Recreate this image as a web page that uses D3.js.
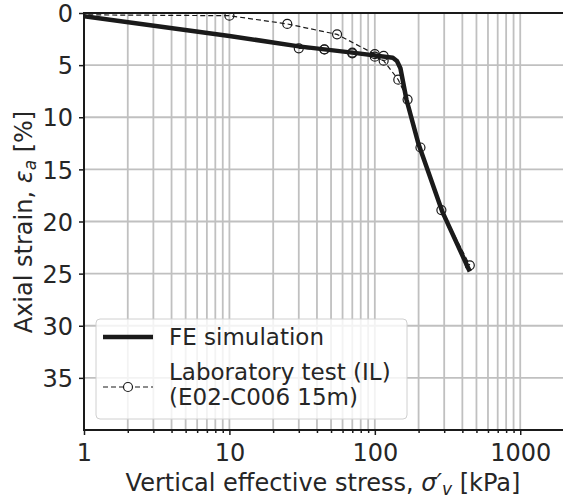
<!DOCTYPE html>
<html>
<head>
<meta charset="utf-8">
<script src="https://cdn.jsdelivr.net/npm/d3@7"></script>
<style>
    body { margin: 0; background: #fff; }
    text { font-family: "DejaVu Sans", sans-serif; fill: #262626; }
</style>
</head>
<body>
<div id="chart"></div>
<script>
// FE simulation (stress in kPa, strain in %)
var feStress = [1, 10, 30, 70, 133, 142, 150, 165, 200, 290, 450];
var feStrain = [0.3, 2.2, 3.2, 3.8, 4.3, 4.6, 5.3, 8.3, 12.6, 19.0, 24.8];

// laboratory test (IL), E02-C006 15m
var labStress = [0.5, 10, 25, 55, 100, 115, 70, 45, 30, 45, 70, 100, 115, 145, 168, 206, 287, 450];
var labStrain = [0.15, 0.26, 1.05, 2.05, 3.95, 4.12, 3.87, 3.5, 3.39, 3.48, 3.8, 4.19, 4.57, 6.4, 8.3, 12.9, 18.9, 24.2];

var stressTicks = [1, 10, 100, 1000];
var strainTicks = [0, 5, 10, 15, 20, 25, 30, 35];

var width = 563, height = 500;
var margin = {top: 13, left: 84, right: 564, bottom: 430};

var svg = d3.select("#chart").append("svg")
    .attr("width", width)
    .attr("height", height);

var x = d3.scaleLog().domain([1, 2000]).range([margin.left, margin.right]);
var y = d3.scaleLinear().domain([0, 40]).range([margin.top, margin.bottom]);

var minorTicks = x.ticks().filter(function(d) { return stressTicks.indexOf(d) < 0; });

svg.append("clipPath").attr("id", "plotClip")
  .append("rect")
    .attr("x", margin.left).attr("y", margin.top)
    .attr("width", margin.right - margin.left)
    .attr("height", margin.bottom - margin.top);

//grid
var grid = svg.append("g").attr("class", "grid");
grid.selectAll("line.v")
    .data(x.ticks())
    .enter().append("line")
    .attr("x1", function(d) { return x(d); })
    .attr("x2", function(d) { return x(d); })
    .attr("y1", margin.top).attr("y2", margin.bottom)
    .attr("stroke", "#c0c0c0").attr("stroke-width", 1.8);
grid.selectAll("line.h")
    .data(strainTicks.concat([40]))
    .enter().append("line")
    .attr("x1", margin.left).attr("x2", margin.right)
    .attr("y1", function(d) { return y(d); })
    .attr("y2", function(d) { return y(d); })
    .attr("stroke", "#c0c0c0").attr("stroke-width", 1.8);

var plot = svg.append("g").attr("clip-path", "url(#plotClip)");

var fe = feStress.map(function(s, i) { return {s: s, e: feStrain[i]}; });
var lab = labStress.map(function(s, i) { return {s: s, e: labStrain[i]}; });

var line = d3.line()
    .x(function(d) { return x(d.s); })
    .y(function(d) { return y(d.e); });

plot.append("path")
    .datum(lab)
    .attr("d", line)
    .attr("fill", "none")
    .attr("stroke", "#1a1a1a")
    .attr("stroke-width", 1.2)
    .attr("stroke-dasharray", "5,3");

plot.selectAll("circle.lab")
    .data(lab)
    .enter().append("circle")
    .attr("cx", function(d) { return x(d.s); })
    .attr("cy", function(d) { return y(d.e); })
    .attr("r", 4.5)
    .attr("fill", "none")
    .attr("stroke", "#1a1a1a")
    .attr("stroke-width", 1.2);

plot.append("path")
    .datum(fe)
    .attr("d", line)
    .attr("fill", "none")
    .attr("stroke", "#1a1a1a")
    .attr("stroke-width", 4.5)
    .attr("stroke-linejoin", "round");

//spines
svg.append("rect")
    .attr("x", margin.left).attr("y", margin.top)
    .attr("width", margin.right - margin.left)
    .attr("height", margin.bottom - margin.top)
    .attr("fill", "none")
    .attr("stroke", "#1a1a1a")
    .attr("stroke-width", 2);

//axes
var xAxis = svg.append("g")
    .attr("transform", "translate(0," + margin.bottom + ")")
    .call(d3.axisBottom(x).tickValues(stressTicks).tickFormat(d3.format("d")).tickSize(5).tickPadding(4));
var xMinor = svg.append("g")
    .attr("transform", "translate(0," + margin.bottom + ")")
    .call(d3.axisBottom(x).tickValues(minorTicks).tickFormat("").tickSize(3));
var yAxis = svg.append("g")
    .attr("transform", "translate(" + margin.left + ",0)")
    .call(d3.axisLeft(y).tickValues(strainTicks).tickSize(5).tickPadding(6));

[xAxis, xMinor, yAxis].forEach(function(a) {
    a.select(".domain").remove();
    a.selectAll(".tick line").attr("stroke", "#1a1a1a").attr("stroke-width", 1.5);
    a.selectAll(".tick text").style("font-size", "24px").attr("fill", "#262626");
});
xAxis.selectAll(".tick text").attr("dy", "0.9em");
yAxis.selectAll(".tick text").attr("dy", "0.36em");

//axis labels
var xl = svg.append("text")
    .attr("x", 323).attr("y", 491)
    .attr("text-anchor", "middle")
    .style("font-size", "24px");
xl.append("tspan").text("Vertical effective stress, ");
xl.append("tspan").style("font-style", "italic").text("σ′");
xl.append("tspan").attr("dy", 4).style("font-size", "17px").style("font-style", "italic").text("v");
xl.append("tspan").attr("dy", -4).text(" [kPa]");

var yl = svg.append("text")
    .attr("transform", "translate(32,222) rotate(-90)")
    .attr("text-anchor", "middle")
    .style("font-size", "24px");
yl.append("tspan").text("Axial strain, ");
yl.append("tspan").style("font-style", "italic").text("ε");
yl.append("tspan").attr("dy", 4).style("font-size", "17px").style("font-style", "italic").text("a");
yl.append("tspan").attr("dy", -4).text(" [%]");

//legend
var legend = svg.append("g");
legend.append("rect")
    .attr("x", 96).attr("y", 319)
    .attr("width", 311).attr("height", 100)
    .attr("rx", 4)
    .attr("fill", "#fff").attr("fill-opacity", 0.8)
    .attr("stroke", "#d0d0d0").attr("stroke-width", 1);
legend.append("line")
    .attr("x1", 103).attr("x2", 153).attr("y1", 337).attr("y2", 337)
    .attr("stroke", "#1a1a1a").attr("stroke-width", 4.5);
legend.append("line")
    .attr("x1", 103).attr("x2", 153).attr("y1", 387).attr("y2", 387)
    .attr("stroke", "#1a1a1a").attr("stroke-width", 1.2).attr("stroke-dasharray", "5,3");
legend.append("circle")
    .attr("cx", 128).attr("cy", 387).attr("r", 4.5)
    .attr("fill", "#fff").attr("stroke", "#1a1a1a").attr("stroke-width", 1.2);
legend.append("text").attr("x", 169).attr("y", 345).style("font-size", "23px").text("FE simulation");
legend.append("text").attr("x", 169).attr("y", 380).style("font-size", "23px").text("Laboratory test (IL)");
legend.append("text").attr("x", 169).attr("y", 405).style("font-size", "23px").text("(E02-C006 15m)");
</script>
</body>
</html>
